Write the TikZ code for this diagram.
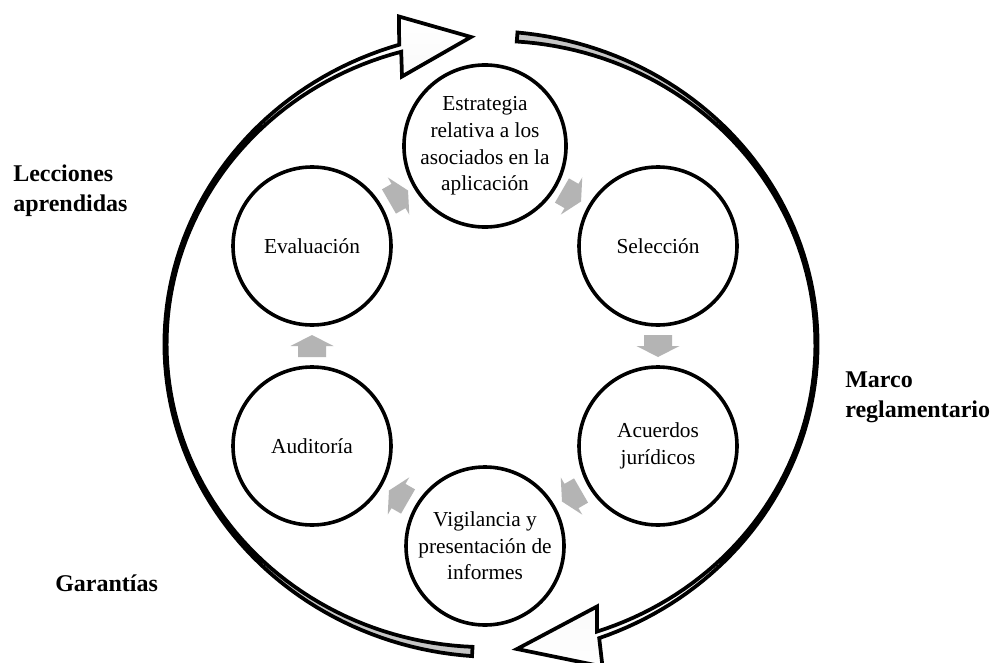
\documentclass[tikz,border=0pt]{standalone}
\usepackage{fontspec}
\setmainfont{Liberation Serif}
\usetikzlibrary{calc}
\definecolor{arrowgray}{HTML}{B4B4B4}
\definecolor{bandgray}{HTML}{C4C4C4}
\begin{document}
\begin{tikzpicture}[x=0.75pt, y=-0.75pt,
  declare function={wr(\t)=1.1+3.4*(\t/85)^2; wl(\t)=1.1+3.4*((\t-180)/85)^2;},
  stage/.style={circle, draw=black, line width=2.7pt, fill=white, minimum size=118.5pt,
    inner sep=0pt, align=center, font=\fontsize{16}{20}\selectfont},
  sidelabel/.style={align=left, inner sep=0pt, font=\fontsize{18}{22.5}\selectfont\bfseries},
  ringband/.style={draw=black, line width=2.8pt, line join=miter},
  flowarrow/.pic={\fill[arrowgray] (-11,-14) -- (0,-14) -- (0,-21.5) -- (11,0) -- (0,21.5) -- (0,14) -- (-11,14) -- cycle;}
]
\clip (0,0) rectangle (1002,663);
\fill[white] (0,0) rectangle (1002,663);

% outer ring: right arc (top -> bottom)
\draw[ringband, top color=bandgray, bottom color=white]
  plot[domain=-85.4:70.8, samples=90] ({491+(325.5+wr(\x))*cos(\x)}, {344+(308+wr(\x))*sin(\x)})
  -- (602.5,666.5) -- (517,649) -- (597,606.5)
  -- plot[domain=70.8:-85.4, samples=90] ({491+(325.5-wr(\x))*cos(\x)}, {344+(308-wr(\x))*sin(\x)})
  -- cycle;
% outer ring: left arc (bottom -> top)
\draw[ringband, top color=white, bottom color=bandgray]
  plot[domain=93.3:253.8, samples=90] ({491+(325.5+wl(\x))*cos(\x)}, {344+(308+wl(\x))*sin(\x)})
  -- (399,16.5) -- (471,37) -- (402,76.5)
  -- plot[domain=253.8:93.3, samples=90] ({491+(325.5-wl(\x))*cos(\x)}, {344+(308-wl(\x))*sin(\x)})
  -- cycle;

% stages
\node[stage] (top) at (485,146) {Estrategia\\relativa a los\\asociados en la\\aplicación};
\node[stage] (sel) at (658,246) {Selección};
\node[stage] (acu) at (658,446) {Acuerdos\\jurídicos};
\node[stage] (vig) at (485,546) {Vigilancia y\\presentación de\\informes};
\node[stage] (aud) at (312,446) {Auditoría};
\node[stage] (eva) at (312,246) {Evaluación};

% flow arrows
\path ($(top)!0.5!(sel)$) pic[rotate=-30] {flowarrow};
\path ($(sel)!0.5!(acu)$) pic[rotate=-90] {flowarrow};
\path ($(acu)!0.5!(vig)$) pic[rotate=-150] {flowarrow};
\path ($(vig)!0.5!(aud)$) pic[rotate=150] {flowarrow};
\path ($(aud)!0.5!(eva)$) pic[rotate=90] {flowarrow};
\path ($(eva)!0.5!(top)$) pic[rotate=30] {flowarrow};

% side labels
\node[sidelabel, anchor=west] (lec) at (13,191) {Lecciones\\aprendidas};
\node[sidelabel, anchor=west] (mar) at (845,397) {Marco\\reglamentario};
\node[sidelabel, anchor=base west] (gar) at (55,591) {Garantías};
\end{tikzpicture}
\end{document}
